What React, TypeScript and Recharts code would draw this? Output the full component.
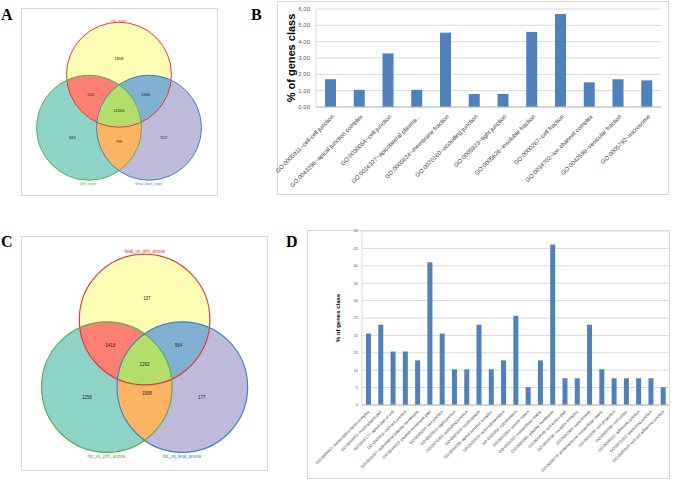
import React from 'react';
import { BarChart, Bar, XAxis, YAxis, CartesianGrid, ScatterChart, Scatter } from 'recharts';

// ---------- Panel B data ----------
const bCategories = [
  'GO:0005911~cell-cell junction',
  'GO:0043296~apical junction complex',
  'GO:0030054~cell junction',
  'GO:0016327~apicolateral plasma...',
  'GO:0005624~membrane fraction',
  'GO:0070160~occluding junction',
  'GO:0005923~tight junction',
  'GO:0005626~insoluble fraction',
  'GO:0000267~cell fraction',
  'GO:0034702~ion channel complex',
  'GO:0042598~vesicular fraction',
  'GO:0005792~microsome',
];
const bValues = [1.7, 1.05, 3.28, 1.05, 4.55, 0.8, 0.8, 4.6, 5.7, 1.51, 1.7, 1.63];
const bTicks = [0, 1, 2, 3, 4, 5, 6];

// ---------- Panel D data ----------
const dCategories = [
  'GO:0005667~transcription factor complex',
  'GO:0044451~nucleoplasm part',
  'GO:0045177~apical part of cell',
  'GO:0005911~cell-cell junction',
  'GO:0016327~apicolateral plasma membrane',
  'GO:0044459~plasma membrane part',
  'GO:0030054~cell junction',
  'GO:0005923~tight junction',
  'GO:0070160~occluding junction',
  'GO:0005654~nucleoplasm',
  'GO:0043296~apical junction complex',
  'GO:0015629~actin cytoskeleton',
  'GO:0005856~cytoskeleton',
  'GO:0031983~vesicle lumen',
  'GO:0031012~extracellular matrix',
  'GO:0005886~plasma membrane',
  'GO:0044448~cell cortex part',
  'GO:0043235~receptor complex',
  'GO:0042383~sarcolemma',
  'GO:0005578~proteinaceous extracellular matrix',
  'GO:0042995~cell projection',
  'GO:0005938~cell cortex',
  'GO:0005912~adherens junction',
  'GO:0070161~anchoring junction',
  'GO:0005913~cell-cell adherens junction',
];
const dValues = [
  20.51, 23.08, 15.38, 15.38, 12.82, 41.03, 20.51, 10.26, 10.26, 23.08,
  10.26, 12.82, 25.64, 5.13, 12.82, 46.15, 7.69, 7.69, 23.08, 10.26,
  7.69, 7.69, 7.69, 7.69, 5.13,
];
const dTicks = [0, 5, 10, 15, 20, 25, 30, 35, 40, 45, 50];

// ---------- Venn data ----------
// region order: top only, left only, right only, top&left, top&right, left&right, all three
const vennASets = ['hlc_expr', 'phh_expr', 'fetal_liver_expr'];
const vennACounts = [1808, 844, 922, 545, 1686, 799, 11506];
const vennCSets = ['fetal_vs_phh_anova', 'hlc_vs_phh_anova', 'hlc_vs_fetal_anova'];
const vennCCounts = [137, 1256, 177, 1413, 564, 1958, 1262];

// ---------- Venn geometry (unit radius space) ----------
const vennACenters = [{ x: 0, y: 0.672 }, { x: -0.571, y: -0.337 }, { x: 0.571, y: -0.337 }];
const vennARegionPos = [
  { x: 0, y: 0.99 }, { x: -0.886, y: -0.516 }, { x: 0.853, y: -0.516 },
  { x: -0.537, y: 0.29 }, { x: 0.51, y: 0.29 }, { x: 0, y: -0.6 }, { x: 0, y: -0.01 },
];
const vennASetPos = [{ x: 0, y: 1.7 }, { x: -0.589, y: -1.392 }, { x: 0.568, y: -1.392 }];

const vennCCenters = [{ x: 0, y: 0.69 }, { x: -0.578, y: -0.345 }, { x: 0.578, y: -0.345 }];
const vennCRegionPos = [
  { x: 0.035, y: 1.006 }, { x: -0.884, y: -0.51 }, { x: 0.877, y: -0.51 },
  { x: -0.527, y: 0.291 }, { x: 0.519, y: 0.291 }, { x: 0.035, y: -0.449 }, { x: 0, y: 0 },
];
const vennCSetPos = [{ x: 0, y: 1.735 }, { x: -0.588, y: -1.404 }, { x: 0.571, y: -1.404 }];

const FILLS = ['#FFFFB3', '#8DD3C7', '#BEBADA'];
const PAIR_FILLS = ['#FB8072', '#80B1D3', '#FDB462'];
const TRIPLE_FILL = '#B3DE69';
const STROKES = ['#E4393C', '#5AB152', '#3F84C0'];
const BAR_COLOR = '#4F81BD';
const FONT = '"Liberation Sans", Arial, sans-serif';

function Venn(props: any) {
  const { id, size, left, top, centers, regionPos, setPos, counts, sets, fontSize, strokeWidth } = props;
  const D = 2;
  const k = size / (2 * D);
  const base = centers.map((c: any, i: number) => ({ x: c.x, y: c.y, i }));
  const pairIdx = [[0, 1], [0, 2], [1, 2]];
  const pairs = pairIdx.map(([a, b], j) => ({ x: centers[a].x, y: centers[a].y, clip: b, j }));
  const triple = [{ x: centers[0].x, y: centers[0].y }];
  const nums = counts.map((n: number, i: number) => ({ x: regionPos[i].x, y: regionPos[i].y, text: String(n) }));
  const names = sets.map((s: string, i: number) => ({ x: setPos[i].x, y: setPos[i].y, text: s, i }));
  return (
    <div style={{ position: 'absolute', left, top }}>
      <ScatterChart width={size} height={size} margin={{ top: 0, right: 0, bottom: 0, left: 0 }}>
        <XAxis type="number" dataKey="x" domain={[-D, D]} hide />
        <YAxis type="number" dataKey="y" domain={[-D, D]} hide />
        <Scatter
          data={base}
          isAnimationActive={false}
          shape={(p: any) => (
            <g>
              <clipPath id={`${id}-clip${p.payload.i}`}>
                <circle cx={p.cx} cy={p.cy} r={k} />
              </clipPath>
              <circle cx={p.cx} cy={p.cy} r={k} fill={FILLS[p.payload.i]} />
            </g>
          )}
        />
        <Scatter
          data={pairs}
          isAnimationActive={false}
          shape={(p: any) => (
            <g clipPath={`url(#${id}-clip${p.payload.clip})`}>
              <circle cx={p.cx} cy={p.cy} r={k} fill={PAIR_FILLS[p.payload.j]} />
            </g>
          )}
        />
        <Scatter
          data={triple}
          isAnimationActive={false}
          shape={(p: any) => (
            <g clipPath={`url(#${id}-clip1)`}>
              <g clipPath={`url(#${id}-clip2)`}>
                <circle cx={p.cx} cy={p.cy} r={k} fill={TRIPLE_FILL} />
              </g>
            </g>
          )}
        />
        <Scatter
          data={base}
          isAnimationActive={false}
          shape={(p: any) => (
            <circle cx={p.cx} cy={p.cy} r={k} fill="none" stroke={STROKES[p.payload.i]} strokeWidth={strokeWidth} />
          )}
        />
        <Scatter
          data={nums}
          isAnimationActive={false}
          shape={(p: any) => (
            <text x={p.cx} y={p.cy} textAnchor="middle" dominantBaseline="central" fontSize={fontSize} fontFamily={FONT} fill="#222">
              {p.payload.text}
            </text>
          )}
        />
        <Scatter
          data={names}
          isAnimationActive={false}
          shape={(p: any) => (
            <text x={p.cx} y={p.cy} textAnchor="middle" dominantBaseline="central" fontSize={fontSize} fontFamily={FONT} fill={STROKES[p.payload.i]}>
              {p.payload.text}
            </text>
          )}
        />
      </ScatterChart>
    </div>
  );
}

const bData = bCategories.map((name, i) => ({ name, value: bValues[i] }));
const dData = dCategories.map((name, i) => ({ name, value: dValues[i] }));

const BTick = (p: any) => {
  const x = p.x + 4;
  const y = p.y + 8;
  return (
    <text x={x} y={y} transform={`rotate(-45, ${x}, ${y})`} textAnchor="end" fontSize={6} fontFamily={FONT} fill="#404040">
      {p.payload.value}
    </text>
  );
};
const DTick = (p: any) => {
  const x = p.x + 1.5;
  const y = p.y + 5;
  return (
    <text x={x} y={y} transform={`rotate(-45, ${x}, ${y})`} textAnchor="end" fontSize={4} fontFamily={FONT} fill="#404040">
      {p.payload.value}
    </text>
  );
};

const PanelLetter = ({ ch, left, top }: any) => (
  <div style={{ position: 'absolute', left, top, fontFamily: '"Liberation Serif", "Times New Roman", serif', fontWeight: 'bold', fontSize: 16, lineHeight: '16px' }}>
    {ch}
  </div>
);
const Box = ({ left, top, width, height }: any) => (
  <div style={{ position: 'absolute', left, top, width, height, border: '1px solid #D9D9D9', boxSizing: 'border-box' }} />
);

export default function App() {
  return (
    <div style={{ position: 'absolute', left: 0, top: 0, width: 675, height: 481, background: '#fff', overflow: 'hidden' }}>
      <Box left={21} top={8} width={197} height={188} />
      <Box left={21} top={236} width={247} height={235} />
      <Box left={277} top={1} width={392} height={194} />
      <Box left={307} top={230} width={363} height={249} />

      <PanelLetter ch="A" left={1} top={7} />
      <PanelLetter ch="B" left={251} top={7} />
      <PanelLetter ch="C" left={1} top={234} />
      <PanelLetter ch="D" left={286} top={234} />

      <Venn id="vA" size={210} left={14.2} top={5.2} centers={vennACenters} regionPos={vennARegionPos}
        setPos={vennASetPos} counts={vennACounts} sets={vennASets} fontSize={4} strokeWidth={1} />
      <Venn id="vC" size={261.2} left={13.8} top={234.4} centers={vennCCenters} regionPos={vennCRegionPos}
        setPos={vennCSetPos} counts={vennCCounts} sets={vennCSets} fontSize={4.5} strokeWidth={1.2} />

      <div style={{ position: 'absolute', left: 257, top: 0 }}>
        <BarChart width={411} height={196} data={bData} margin={{ top: 9, right: 7, bottom: 2, left: 20 }}>
          <CartesianGrid vertical={false} stroke="#D9D9D9" />
          <XAxis dataKey="name" interval={0} height={87} tick={<BTick />} tickLine={false} tickSize={0} axisLine={{ stroke: '#BFBFBF' }} />
          <YAxis
            width={39}
            domain={[0, 6]}
            ticks={bTicks}
            interval={0}
            tickLine={false}
            tickSize={4}
            tickMargin={2}
            axisLine={{ stroke: '#D9D9D9' }}
            tick={{ fontSize: 6, fill: '#595959', fontFamily: FONT }}
            tickFormatter={(v: number) => v.toFixed(2).replace('.', ',')}
            label={(lp: any) => {
              const vb = lp.viewBox || {};
              const x = (vb.x ?? 0) + 14;
              const y = (vb.y ?? 0) + (vb.height ?? 0) / 2;
              return (
                <text x={x} y={y} transform={`rotate(-90, ${x}, ${y})`} textAnchor="middle" dominantBaseline="central" fontSize={11} fontWeight="bold" fontFamily={FONT} fill="#000">
                  % of genes class
                </text>
              );
            }}
          />
          <Bar dataKey="value" fill={BAR_COLOR} barSize={11} isAnimationActive={false} />
        </BarChart>
      </div>

      <div style={{ position: 'absolute', left: 307, top: 224 }}>
        <BarChart width={362} height={254} data={dData} margin={{ top: 7, right: 0, bottom: 0, left: 0 }}>
          <CartesianGrid vertical={false} stroke="#D9D9D9" />
          <XAxis dataKey="name" interval={0} height={73} tick={<DTick />} tickLine={false} tickSize={0} axisLine={{ stroke: '#BFBFBF' }} />
          <YAxis
            width={55}
            domain={[0, 50]}
            ticks={dTicks}
            interval={0}
            tickLine={false}
            tickSize={3}
            tickMargin={1}
            axisLine={{ stroke: '#D9D9D9' }}
            tick={{ fontSize: 4, fill: '#595959', fontFamily: FONT }}
            label={(lp: any) => {
              const vb = lp.viewBox || {};
              const x = (vb.x ?? 0) + 30.5;
              const y = (vb.y ?? 0) + (vb.height ?? 0) / 2;
              return (
                <text x={x} y={y} transform={`rotate(-90, ${x}, ${y})`} textAnchor="middle" dominantBaseline="central" fontSize={6} fontWeight="bold" fontFamily={FONT} fill="#000">
                  % of genes class
                </text>
              );
            }}
          />
          <Bar dataKey="value" fill={BAR_COLOR} barSize={5} isAnimationActive={false} />
        </BarChart>
      </div>
    </div>
  );
}
